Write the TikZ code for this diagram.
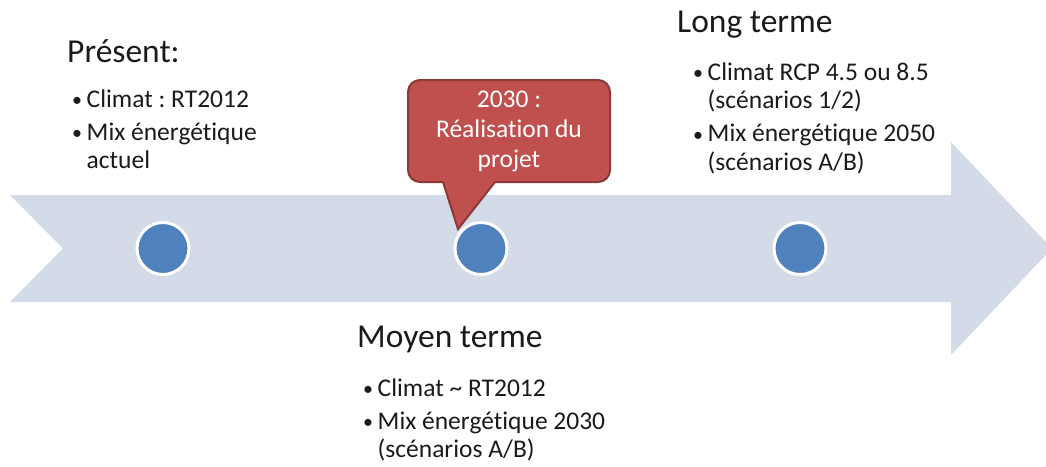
\documentclass[tikz,border=0pt]{standalone}
\usepackage{fontspec}
\setmainfont{Carlito}[Ligatures={NoCommon}]
\frenchspacing
\definecolor{arrowfill}{HTML}{D3DAE8}
\definecolor{dotblue}{HTML}{4F81BD}
\definecolor{callred}{HTML}{C0504D}
\definecolor{callborder}{HTML}{8C3836}
\definecolor{txt}{HTML}{1A1A1A}
\tikzset{
  dot/.style={circle, fill=dotblue, draw=white, line width=3pt, minimum size=52pt, inner sep=0pt},
  heading/.style={anchor=base west, inner sep=0pt, text=txt, font=\fontsize{33.5}{38}\selectfont},
  bullets/.style={anchor=base west, inner sep=0pt, align=left, text=txt, font=\fontsize{25.5}{28.5}\selectfont},
  calltext/.style={align=center, text=white, inner sep=0pt, font=\fontsize{25.5}{30}\selectfont},
}
\newcommand{\bitem}[1]{\makebox[14.5pt][l]{\raisebox{0.5pt}{\fontsize{20}{20}\selectfont•}}#1}
\newcommand{\bcont}[1]{\hspace*{14.5pt}#1}
\begin{document}
\begin{tikzpicture}[x=1pt,y=-1pt]
\useasboundingbox (0,0) rectangle (1046,466);
\clip (0,0) rectangle (1046,466);
% timeline arrow
\fill[arrowfill] (10,195) -- (63,248.5) -- (10,302) -- (951,302) -- (951,355) -- (1052,248.5) -- (951,142) -- (951,195) -- cycle;
% dots
\node[dot] (d1) at (163,248.5) {};
\node[dot] (d2) at (481,248.5) {};
\node[dot] (d3) at (800,248.5) {};
% callout
\coordinate (tip) at (458,229);
\filldraw[fill=callred, draw=callborder, line width=2pt]
  (443,182) -- (tip) -- (495,182) [rounded corners=12pt] -- (610,182) -- (610,80) -- (408,80) -- (408,182) [sharp corners] -- cycle;
\node[calltext] (call) at (509,131) {2030 :\\Réalisation du\\projet};
% present
\node[heading] (h1) at (67,62) {Présent:};
\node[bullets] (b1) at (72,168.5) {\bitem{Climat : RT2012}\\[4.5pt]\bitem{Mix énergétique}\\\bcont{actuel}};
% moyen terme
\node[heading] (h2) at (357,347) {Moyen terme};
\node[bullets] (b2) at (363,457.5) {\bitem{Climat \textasciitilde{} RT2012}\\[4.5pt]\bitem{Mix énergétique 2030}\\\bcont{(scénarios A/B)}};
% long terme
\node[heading] (h3) at (677,32) {Long terme};
\node[bullets] (b3) at (693,170) {\bitem{Climat RCP 4.5 ou 8.5}\\\bcont{(scénarios 1/2)}\\[4.5pt]\bitem{Mix énergétique 2050}\\\bcont{(scénarios A/B)}};
\end{tikzpicture}
\end{document}
